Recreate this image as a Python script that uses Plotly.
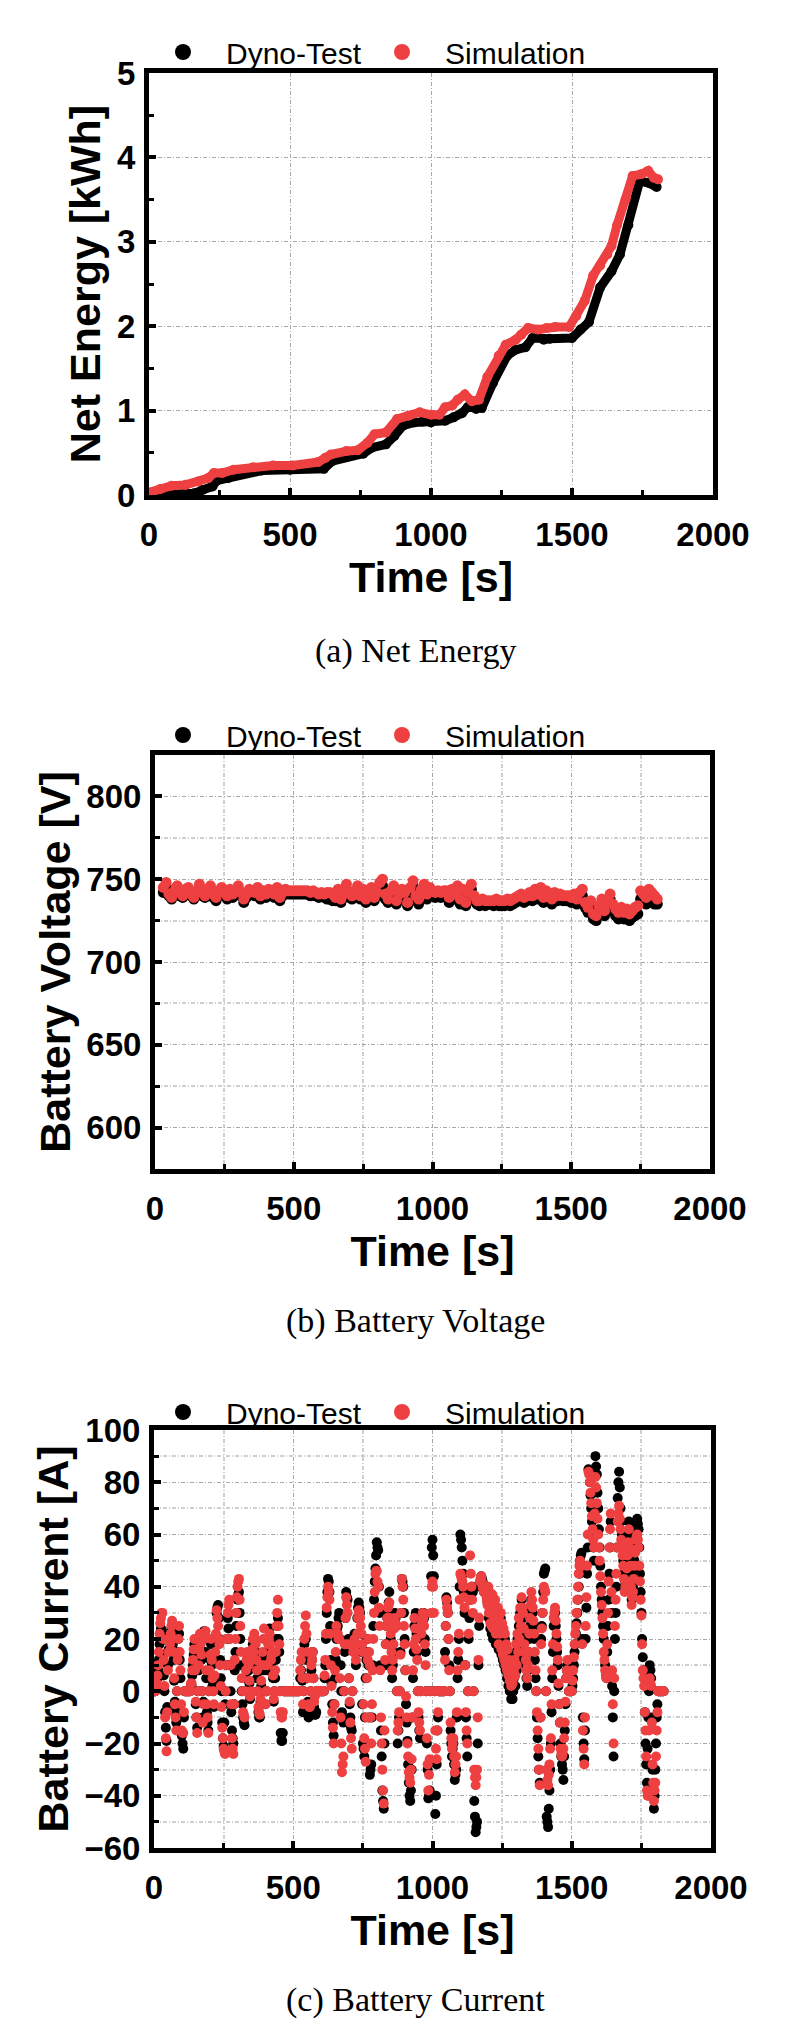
import plotly.graph_objects as go

# ---------------- data ----------------
# (a) Net energy [kWh]
energy_t_dyno = [0, 100, 160, 190, 225, 240, 280, 330, 400, 500, 620, 650, 700, 760, 790, 840, 870, 900,
                 940, 970, 1000, 1050, 1080, 1110, 1130, 1160, 1180, 1220, 1270, 1300, 1335, 1360, 1400,
                 1420, 1500, 1530, 1560, 1600, 1640, 1670, 1700, 1740, 1770, 1800]
energy_dyno = [0.0, 0.0, 0.02, 0.06, 0.10, 0.17, 0.20, 0.26, 0.29, 0.30, 0.31, 0.40, 0.45, 0.49, 0.56, 0.60,
               0.70, 0.82, 0.86, 0.87, 0.86, 0.88, 0.92, 0.97, 1.04, 1.02, 1.03, 1.33, 1.65, 1.72, 1.75, 1.86,
               1.84, 1.85, 1.86, 1.96, 2.05, 2.46, 2.65, 2.85, 3.20, 3.72, 3.70, 3.65]
energy_t_sim = [0, 40, 80, 130, 175, 210, 230, 260, 300, 370, 440, 510, 600, 625, 645, 700, 740, 775, 800,
                840, 880, 920, 960, 1000, 1030, 1050, 1075, 1095, 1120, 1145, 1170, 1200, 1240, 1265, 1300,
                1320, 1345, 1380, 1410, 1440, 1490, 1515, 1545, 1575, 1600, 1625, 1640, 1660, 1690, 1715,
                1745, 1770, 1790, 1805]
energy_sim = [0.03, 0.07, 0.11, 0.12, 0.16, 0.20, 0.26, 0.26, 0.30, 0.33, 0.35, 0.35, 0.39, 0.44, 0.48, 0.52,
              0.53, 0.62, 0.72, 0.74, 0.90, 0.94, 0.98, 0.95, 0.95, 1.04, 1.06, 1.13, 1.19, 1.11, 1.13, 1.40,
              1.65, 1.78, 1.84, 1.90, 1.98, 1.96, 1.98, 1.99, 1.99, 2.12, 2.30, 2.60, 2.72, 2.85, 2.95, 3.20,
              3.50, 3.78, 3.80, 3.84, 3.76, 3.74]

# (b) Battery voltage [V], one sample every 10 s starting at 30 s
volt_start, volt_step = 30, 10
volt_dyno = [742, 746, 740,
             738, 741, 744, 740, 739, 742,
             743, 740, 738, 741, 745, 740,
             739, 742, 744, 739, 737, 741,
             743, 740, 738, 742, 739, 741,
             744, 740, 736, 739, 742, 741,
             740, 743, 738, 741, 739, 742,
             741, 739, 743, 737, 740, 742,
             741, 741, 741, 741, 741, 741,
             741, 741, 740, 741, 740, 739,
             740, 739, 738, 738, 737, 737,
             741, 736, 739, 744, 739, 738,
             741, 743, 738, 741, 736, 740,
             742, 737, 740, 745, 746, 738,
             736, 740, 743, 735, 738, 741,
             739, 734, 742, 746, 737, 735,
             741, 744, 738, 742, 740, 739,
             740, 739, 740, 740, 736, 741,
             738, 743, 735, 741, 734, 739,
             744, 737, 735, 734, 735, 734,
             735, 735, 734, 735, 734, 734,
             734, 735, 734, 735, 736, 737,
             738, 736, 737, 739, 737, 741,
             738, 742, 736, 740, 738, 735,
             739, 737, 738, 737, 737, 737,
             736, 738, 735, 738, 740, 733,
             730, 733, 726, 725, 730, 734,
             728, 733, 738, 731, 728, 726,
             729, 726, 728, 725, 727, 728,
             729, 738, 736, 735, 739, 737,
             735, 735]
volt_sim = [745, 748, 741,
            739, 743, 746, 742, 740, 744,
            745, 741, 739, 743, 747, 742,
            740, 744, 746, 741, 739, 743,
            745, 742, 740, 744, 741, 743,
            746, 742, 738, 741, 744, 743,
            742, 745, 740, 743, 741, 744,
            743, 741, 745, 739, 742, 744,
            743, 743, 743, 743, 743, 743,
            743, 743, 742, 743, 742, 741,
            742, 741, 742, 742, 741, 739,
            744, 738, 741, 747, 742, 740,
            743, 746, 740, 744, 738, 742,
            745, 739, 742, 748, 750, 741,
            738, 743, 746, 737, 741, 744,
            742, 736, 745, 749, 740, 738,
            744, 747, 741, 745, 743, 742,
            743, 742, 743, 743, 739, 744,
            741, 746, 738, 744, 736, 742,
            747, 740, 737, 737, 738, 737,
            737, 737, 737, 738, 737, 737,
            737, 738, 737, 738, 739, 740,
            741, 739, 740, 742, 740, 744,
            741, 745, 739, 743, 741, 738,
            742, 740, 741, 740, 740, 740,
            739, 741, 738, 742, 744, 736,
            733, 737, 729, 728, 734, 738,
            731, 736, 741, 735, 732, 730,
            733, 730, 732, 729, 731, 733,
            734, 743, 741, 739, 744, 742,
            740, 738]

# (c) Battery current [A], one sample every 2.5 s starting at 0 s (one row = 1 minute)
cur_step = 2.5
cur_dyno = [
    0, 0, 0, 1, 2, 5, 8, 12, 18, 22, 24, 23, 20, 14, 6, 0, -8, -14, -19, -6, 10, 16, 22, 20,
    20, 24, 25, 18, 12, 4, -4, -8, -12, 0, 15, 20, 22, 12, 5, -8, -17, -20, -22, -10, 0, 0, 0, 0,
    0, 0, 0, 0, 0, 2, 2, 6, 10, 14, 18, 8, -5, -10, -14, 0, 8, 14, 20, 16, 12, 0, -10, -4,
    23, 20, 15, 5, -8, -12, -15, 0, 5, 12, 18, 10, 2, 0, -6, 4, 12, 20, 30, 32, 33, 28, 20, 12,
    5, 0, -12, -18, -21, -12, -5, 0, 10, 20, 28, 24, 20, 10, 0, -8, -15, -18, -20, -5, 8, 15, 25, 30,
    35, 37, 38, 30, 20, 10, 0, -5, -10, -12, -13, 0, 5, 8, 12, 10, 8, 3, -3, 0, 10, 14, 18, 12,
    20, 18, 15, 10, 5, 0, -8, -10, -10, -4, 2, 8, 12, 10, 8, 0, -5, 0, 0, 8, 15, 20, 24, 20,
    10, 12, 14, 5, -4, 0, 5, 12, 20, 25, 28, 20, 15, 0, -16, -19, -19, -16, 0, 0, 0, 0, 0, 0,
    0, 0, 0, 0, 0, 0, 0, 0, 0, 0, 0, 0, 0, 0, 0, 0, 0, 0, 5, 8, 12, 4, -8, 0,
    18, 20, 20, 12, 5, -4, -10, -9, -8, 0, 8, 12, 15, 5, -6, -9, -9, -8, 0, 0, 0, 0, 0, 0,
    0, 0, 0, 0, 0, 5, 10, 20, 30, 38, 43, 42, 38, 25, 12, 3, -5, -12, -17, -5, 5, 12, 20, 24,
    25, 28, 30, 20, 10, 0, -8, -10, -12, 0, 15, 28, 38, 36, 35, 20, 5, -5, -10, -14, -15, 0, 18, 20,
    22, 15, 10, 18, 28, 32, 34, 32, 30, 22, 15, -5, -20, -22, -25, -10, 5, 12, 20, 15, 10, -10, -32, -30,
    -28, -10, 10, 25, 35, 42, 47, 52, 57, 55, 54, 40, 30, 10, -15, -25, -38, -42, -45, -20, 10, 18, 25, 28,
    30, 34, 38, 30, 20, 12, 5, 10, 15, 25, 30, 28, 25, 0, -20, -15, -10, 0, 15, 30, 43, 42, 40, 30,
    20, 8, -5, -12, -19, -28, -35, -40, -42, -38, -30, -10, 5, 15, 25, 28, 30, 22, 15, 0, -10, -15, -18, 0,
    20, 25, 30, 30, 28, 20, 15, 0, -20, -30, -41, -40, -38, 0, 44, 55, 58, 52, 44, 0, -47, -40, -28, -15,
    -10, 0, 0, 0, 0, 0, 0, 0, 0, 0, 15, 25, 36, 34, 30, 20, 10, 0, -15, -20, -25, -22, -20, -28,
    -34, -32, -30, -10, 5, 12, 20, 40, 60, 58, 55, 50, 45, 38, 30, 10, -10, -18, -25, 0, 20, 28, 35, 38,
    40, 40, 38, 0, -42, -48, -54, -52, -50, -20, 10, 25, 40, 42, 44, 43, 42, 40, 38, 40, 40, 38, 36, 34,
    38, 28, 35, 24, 33, 22, 34, 20, 30, 26, 32, 18, 28, 22, 30, 16, 26, 20, 28, 14, 24, 12, 22, 10,
    20, 8, 16, 5, 14, 2, 10, 0, 6, -3, 4, -3, 0, 5, 10, 2, 15, 8, 20, 12, 25, 18, 30, 22,
    35, 30, 28, 22, 20, 14, 10, 5, 2, 8, 15, 20, 25, 30, 35, 32, 30, 25, 20, 12, 5, 0, -10, -18,
    -25, -30, -35, -10, 20, 25, 30, 38, 45, 46, 47, 0, -48, -50, -52, -45, -38, -30, -20, -8, 5, 15, 25, 28,
    30, 25, 20, 15, 10, 2, -5, -12, -20, -25, -28, -30, -34, -25, -15, -5, 5, 8, 10, 5, 0, 0, 0, 0,
    0, 2, 5, 10, 15, 18, 22, 26, 30, 35, 40, 45, 50, 52, 53, 20, -10, -20, -26, -15, 20, 32, 45, 55,
    85, 84, 80, 75, 70, 65, 60, 55, 50, 70, 90, 86, 83, 76, 70, 62, 55, 48, 40, 35, 30, 25, 20, 15,
    10, 7, 5, 15, 25, 35, 45, 55, 65, 30, 2, -10, -25, 0, 20, 30, 40, 55, 74, 80, 84, 78, 70, 65,
    60, 55, 50, 45, 40, 42, 45, 50, 55, 60, 65, 58, 50, 42, 35, 38, 40, 45, 50, 55, 60, 63, 66, 64,
    62, 55, 45, 38, 30, 20, 13, 8, 5, -8, -20, -28, -35, -22, -10, 0, 10, 8, 5, -10, -30, -38, -45, -40,
    -30, -20, -10, -5, 0, 0, 0, 0, 0, 0, 0, 0, 0]
cur_sim = [
    0, 0, 0, 2, 3, 6, 10, 15, 22, 26, 28, 30, 30, 20, 12, 2, -10, -18, -23, -8, 8, 15, 20, 18,
    22, 25, 27, 20, 15, 5, -5, -10, -15, 0, 12, 20, 25, 15, 8, -5, -15, -16, -16, -8, 0, 0, 0, 0,
    0, 0, 0, 0, 0, 3, 3, 8, 12, 16, 20, 8, -4, -10, -16, 0, 10, 16, 22, 18, 14, 0, -12, -5,
    20, 22, 23, 8, -5, -10, -16, 0, 8, 14, 20, 12, 5, 0, -5, 6, 15, 22, 31, 28, 25, 20, 18, 10,
    2, -6, -14, -18, -22, -23, -24, 0, 10, 20, 30, 33, 35, 20, 10, -5, -18, -22, -24, -5, 12, 20, 30, 36,
    40, 42, 43, 35, 25, 15, 5, 0, -8, -9, -10, 0, 8, 12, 15, 12, 10, 4, -2, 0, 12, 16, 20, 15,
    22, 20, 18, 12, 8, 0, -6, -8, -9, -3, 4, 10, 15, 20, 24, 10, -5, 0, 0, 10, 18, 20, 22, 18,
    12, 14, 15, 6, -3, 0, 8, 15, 25, 30, 35, 25, 18, 0, -8, -10, -10, -8, 0, 0, 0, 0, 0, 0,
    0, 0, 0, 0, 0, 0, 0, 0, 0, 0, 0, 0, 0, 0, 0, 0, 0, 0, 8, 12, 15, 5, -5, 0,
    20, 25, 29, 22, 15, 5, -5, -6, -6, 0, 10, 12, 15, 5, -4, -2, 0, 0, 0, 0, 0, 0, 0, 0,
    0, 0, 0, 0, 0, 6, 12, 22, 32, 36, 40, 38, 35, 22, 10, 2, -8, -14, -20, -5, 8, 15, 25, 22,
    22, 20, 20, 5, -10, -20, -31, -28, -25, 0, 18, 28, 36, 33, 30, 18, 5, -4, -12, -18, -22, 0, 15, 18,
    20, 15, 12, 18, 22, 28, 31, 30, 28, 25, 22, 18, 15, -5, -18, -22, -27, -10, 5, 12, 20, 15, 10, -10,
    -20, -5, 8, 20, 30, 38, 45, 46, 46, 42, 40, 32, 25, 8, -10, -20, -30, -38, -43, -15, 12, 18, 25, 28,
    32, 33, 34, 28, 22, 15, 8, 12, 18, 24, 28, 26, 25, 0, -15, -12, -8, 0, 14, 30, 43, 40, 35, 25,
    18, 8, -2, -10, -20, -25, -31, -33, -35, -30, -26, -10, 8, 18, 28, 24, 20, 16, 12, 0, -8, -12, -15, 0,
    22, 26, 30, 28, 25, 18, 10, 0, -18, -28, -38, -32, -26, 0, 30, 40, 42, 40, 30, 0, -15, -22, -26, -15,
    -8, 0, 0, 0, 0, 0, 0, 0, 0, 0, 12, 25, 35, 32, 30, 20, 8, 0, -12, -18, -22, -20, -18, -25,
    -31, -28, -25, -8, 8, 15, 22, 35, 45, 44, 43, 42, 40, 36, 32, 10, -8, -15, -20, 0, 22, 35, 52, 45,
    40, 35, 30, 0, -30, -33, -36, -33, -30, -10, 12, 28, 42, 43, 44, 42, 40, 39, 38, 40, 40, 37, 35, 33,
    40, 30, 38, 26, 36, 25, 37, 24, 33, 28, 35, 22, 31, 25, 32, 18, 29, 22, 30, 16, 26, 14, 24, 12,
    22, 10, 18, 8, 16, 6, 12, 4, 9, 2, 7, 3, 5, 8, 12, 6, 18, 10, 22, 15, 28, 20, 32, 25,
    36, 32, 30, 24, 18, 15, 12, 8, 5, 10, 15, 22, 28, 33, 38, 35, 32, 27, 22, 15, 8, 0, -8, -15,
    -22, -30, -36, -10, 18, 24, 30, 35, 40, 39, 38, 0, -30, -34, -36, -32, -28, -22, -18, -5, 8, 18, 28, 30,
    32, 27, 22, 17, 12, 3, -5, -12, -22, -24, -25, -24, -22, -18, -12, -4, 5, 8, 12, 6, 0, 0, 0, 0,
    0, 4, 8, 13, 18, 22, 25, 30, 35, 40, 45, 48, 50, 49, 48, 18, -15, -22, -28, -10, 25, 36, 48, 60,
    84, 83, 80, 76, 72, 67, 62, 58, 55, 68, 82, 78, 72, 66, 60, 55, 50, 44, 38, 33, 28, 22, 15, 12,
    8, 6, 5, 18, 30, 42, 55, 62, 68, 38, 8, -5, -20, 5, 25, 35, 45, 55, 65, 68, 71, 66, 62, 58,
    55, 52, 48, 43, 38, 40, 42, 47, 52, 57, 62, 55, 48, 40, 33, 36, 38, 43, 48, 53, 58, 59, 60, 58,
    55, 48, 42, 35, 29, 18, 8, 5, 2, -8, -15, -25, -38, -40, -40, -15, 5, 3, 2, -12, -28, -35, -42, -38,
    -35, -25, -15, -8, 0, 0, 0, 0, 0, 0, 0, 0, 0]

series_names = ["Dyno-Test", "Simulation"]
y_titles = ["Net Energy [kWh]", "Battery Voltage [V]", "Battery Current [A]"]
captions = ["(a) Net Energy", "(b) Battery Voltage", "(c) Battery Current"]
x_title = "Time [s]"

volt_t = [volt_start + volt_step * i for i in range(len(volt_dyno))]
volt_t_sim = [volt_start + volt_step * i for i in range(len(volt_sim))]
cur_t = [cur_step * i for i in range(len(cur_dyno))]
cur_t_sim = [cur_step * i for i in range(len(cur_sim))]

# ---------------- style ----------------
BLACK = "#000000"
RED = "#EE4040"
SANS = "Liberation Sans"
SERIF = "Liberation Serif"
W, H = 800, 2036

# pixel frames of the three panels: (left, right, top, bottom)
frames = [(149, 713, 73, 495), (155, 710, 755, 1169), (154, 711, 1430, 1848)]
legend_y = [52, 735, 1412]
caption_y = [651, 1321, 2000]

fig = go.Figure()

# panel a
fig.add_trace(go.Scatter(x=energy_t_dyno, y=energy_dyno, mode="lines+markers",
                         line=dict(color=BLACK, width=9), marker=dict(color=BLACK, size=10),
                         showlegend=False, xaxis="x", yaxis="y"))
fig.add_trace(go.Scatter(x=energy_t_sim, y=energy_sim, mode="lines+markers",
                         line=dict(color=RED, width=9), marker=dict(color=RED, size=10),
                         showlegend=False, xaxis="x", yaxis="y"))
# panel b
fig.add_trace(go.Scatter(x=volt_t, y=volt_dyno, mode="markers",
                         marker=dict(color=BLACK, size=11), showlegend=False, xaxis="x2", yaxis="y2"))
fig.add_trace(go.Scatter(x=volt_t_sim, y=volt_sim, mode="markers",
                         marker=dict(color=RED, size=11), showlegend=False, xaxis="x2", yaxis="y2"))
# panel c
fig.add_trace(go.Scatter(x=cur_t, y=cur_dyno, mode="markers",
                         marker=dict(color=BLACK, size=10), showlegend=False, xaxis="x3", yaxis="y3"))
fig.add_trace(go.Scatter(x=cur_t_sim, y=cur_sim, mode="markers",
                         marker=dict(color=RED, size=10), showlegend=False, xaxis="x3", yaxis="y3"))

# legend entries (first entry given a fixed width so the second starts where the reference has it)
for k, lg in enumerate(["legend", "legend2", "legend3"]):
    ax = "" if k == 0 else str(k + 1)
    for j, (name, col) in enumerate(zip(series_names, [BLACK, RED])):
        extra = dict(legendwidth=128) if j == 0 else {}
        fig.add_trace(go.Scatter(x=[None], y=[None], mode="markers", name=name,
                                 marker=dict(color=col, size=17), legend=lg,
                                 xaxis="x" + ax, yaxis="y" + ax, **extra))

tickfont = dict(family=SANS, size=33, color="black", weight="bold")
titlefont = dict(family=SANS, size=43, color="black", weight="bold")
major_grid = dict(showgrid=True, gridcolor="#a9a9a9", gridwidth=1.2, griddash="4px,2px,1px,2px")


def xaxis_cfg(frame, anchor, minor_grid):
    l, r, t, b = frame
    return dict(domain=[l / W, r / W], range=[0, 2000], anchor=anchor,
                tickvals=[0, 500, 1000, 1500, 2000], showline=True, linewidth=5, linecolor="black",
                mirror=True, ticks="inside", ticklen=7, tickwidth=4, tickcolor="black",
                tickfont=tickfont, ticklabelstandoff=6,
                minor=dict(tickvals=[250, 750, 1250, 1750], ticks="inside", ticklen=5, tickwidth=3,
                           tickcolor="black", showgrid=minor_grid, gridcolor="#cfcfcf", gridwidth=1.5),
                title=dict(text=x_title, font=titlefont, standoff=6),
                zeroline=False, automargin=False, **major_grid)


def yaxis_cfg(frame, anchor, rng, vals, minor_vals, minor_grid, title):
    l, r, t, b = frame
    return dict(domain=[1 - b / H, 1 - t / H], range=rng, anchor=anchor,
                tickvals=vals, showline=True, linewidth=5, linecolor="black",
                mirror=True, ticks="inside", ticklen=7, tickwidth=4, tickcolor="black",
                tickfont=tickfont, ticklabelstandoff=2,
                minor=dict(tickvals=minor_vals, ticks="inside", ticklen=5, tickwidth=3,
                           tickcolor="black", showgrid=minor_grid, gridcolor="#cfcfcf", gridwidth=1.5),
                title=dict(text=title, font=titlefont, standoff=4),
                zeroline=False, automargin=False, **major_grid)


fig.update_layout(
    width=W, height=H, margin=dict(l=0, r=0, t=0, b=0),
    paper_bgcolor="white", plot_bgcolor="white",
    xaxis=xaxis_cfg(frames[0], "y", False),
    yaxis=yaxis_cfg(frames[0], "x", [0, 5], [0, 1, 2, 3, 4, 5],
                    [0.5, 1.5, 2.5, 3.5, 4.5], False, y_titles[0]),
    xaxis2=xaxis_cfg(frames[1], "y2", True),
    yaxis2=yaxis_cfg(frames[1], "x2", [575, 825], [600, 650, 700, 750, 800],
                     [575, 625, 675, 725, 775, 825], True, y_titles[1]),
    xaxis3=xaxis_cfg(frames[2], "y3", True),
    yaxis3=yaxis_cfg(frames[2], "x3", [-60, 100], [-60, -40, -20, 0, 20, 40, 60, 80, 100],
                     [-50, -30, -10, 10, 30, 50, 70, 90], True, y_titles[2]),
)

legend_common = dict(orientation="h", xanchor="left", yanchor="middle", x=140 / W,
                     font=dict(family=SANS, size=30, color="black"), itemwidth=76,
                     bgcolor="rgba(0,0,0,0)", borderwidth=0)
fig.update_layout(legend=dict(y=1 - legend_y[0] / H, **legend_common),
                  legend2=dict(y=1 - legend_y[1] / H, **legend_common),
                  legend3=dict(y=1 - legend_y[2] / H, **legend_common))

for cap, cy in zip(captions, caption_y):
    fig.add_annotation(text=cap, xref="paper", yref="paper", x=415 / W, y=1 - cy / H,
                       xanchor="center", yanchor="middle", showarrow=False,
                       font=dict(family=SERIF, size=34, color="black"))

fig.write_html("out.html")
